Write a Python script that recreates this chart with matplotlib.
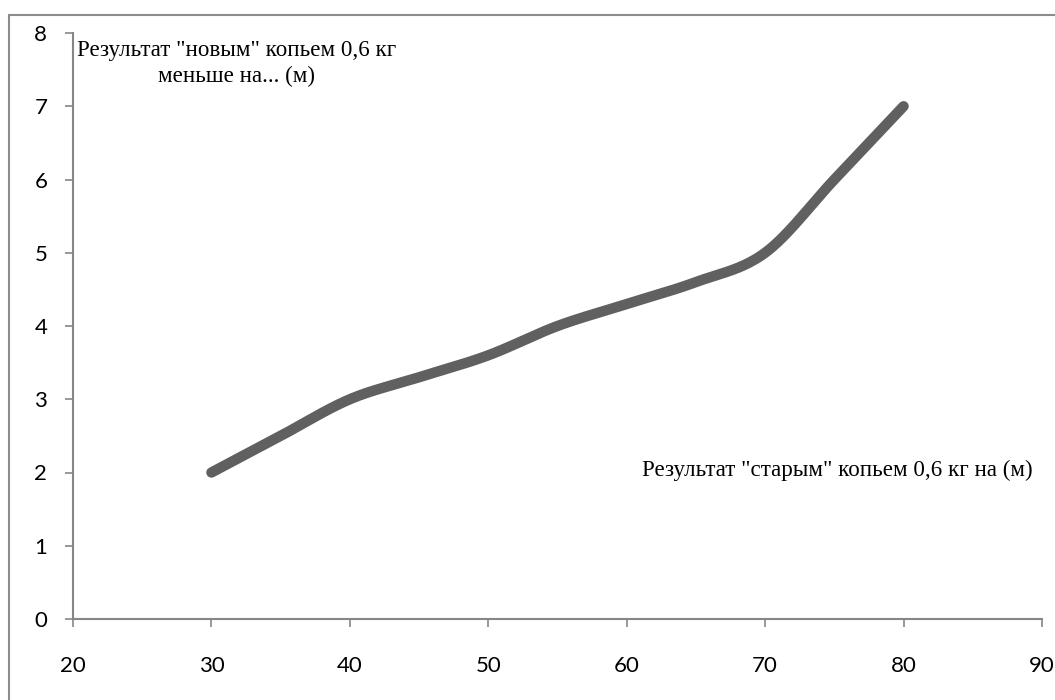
import numpy as np
import matplotlib
matplotlib.use("Agg")
import matplotlib.pyplot as plt
from matplotlib.patches import Rectangle

# Data
old_result = [30, 35, 40, 45, 50, 55, 60, 65, 70, 75, 80]
difference = [2.0, 2.5, 3.0, 3.3, 3.6, 4.0, 4.3, 4.6, 5.0, 6.0, 7.0]
x_ticks = [20, 30, 40, 50, 60, 70, 80, 90]
y_ticks = [0, 1, 2, 3, 4, 5, 6, 7, 8]
y_title = 'Результат "новым" копьем 0,6 кг\nменьше на... (м)'
x_title = 'Результат "старым" копьем 0,6 кг на (м)'

W, H = 1055, 700
fig = plt.figure(figsize=(W / 100, H / 100), dpi=100)

def fx(px):
    return px / W

def fy(py):
    return 1 - py / H

# outer chart border (extends beyond right/bottom edges)
fig.patches.append(Rectangle((fx(9), fy(720)), fx(1070) - fx(9), fy(15) - fy(720),
                             transform=fig.transFigure, fill=False,
                             edgecolor="#8c8c8c", linewidth=1.5))

ax = fig.add_axes([fx(73), fy(619), fx(1042) - fx(73), fy(33) - fy(619)])

# Excel-like smoothed line (Bezier with 1/6 tangents)
xs = np.array(old_result, dtype=float)
ys = np.array(difference, dtype=float)
n = len(xs)
cx, cy = [], []
t = np.linspace(0, 1, 40)
for i in range(n - 1):
    p0 = np.array([xs[max(i - 1, 0)], ys[max(i - 1, 0)]])
    p1 = np.array([xs[i], ys[i]])
    p2 = np.array([xs[i + 1], ys[i + 1]])
    p3 = np.array([xs[min(i + 2, n - 1)], ys[min(i + 2, n - 1)]])
    c1 = p1 + (p2 - p0) / 6
    c2 = p2 - (p3 - p1) / 6
    b = ((1 - t) ** 3)[:, None] * p1 + (3 * (1 - t) ** 2 * t)[:, None] * c1 \
        + (3 * (1 - t) * t ** 2)[:, None] * c2 + (t ** 3)[:, None] * p2
    cx.extend(b[:, 0])
    cy.extend(b[:, 1])
ax.plot(cx, cy, color="#606060", linewidth=7.5, solid_capstyle="round",
        solid_joinstyle="round")

ax.set_xlim(20, 90)
ax.set_ylim(0, 8)
ax.set_xticks(x_ticks)
ax.set_yticks(y_ticks)
for s in ["top", "right"]:
    ax.spines[s].set_visible(False)
for s in ["left", "bottom"]:
    ax.spines[s].set_color("#868686")
    ax.spines[s].set_linewidth(1.5)
ax.tick_params(axis="both", direction="out", length=5.5, width=1.2, color="#868686",
               labelsize=16, labelcolor="black")
ax.tick_params(axis="x", pad=21)
ax.tick_params(axis="y", pad=13)
for lab in ax.get_xticklabels() + ax.get_yticklabels():
    lab.set_family(["Lato", "DejaVu Sans"])

fig.text(fx(237), fy(64), y_title, ha="center", va="center",
         family=["Liberation Serif"], fontsize=16.6, linespacing=1.3)
fig.text(fx(837), fy(470), x_title, ha="center", va="center",
         family=["Liberation Serif"], fontsize=16.6)

fig.savefig("out.png", dpi=100)
